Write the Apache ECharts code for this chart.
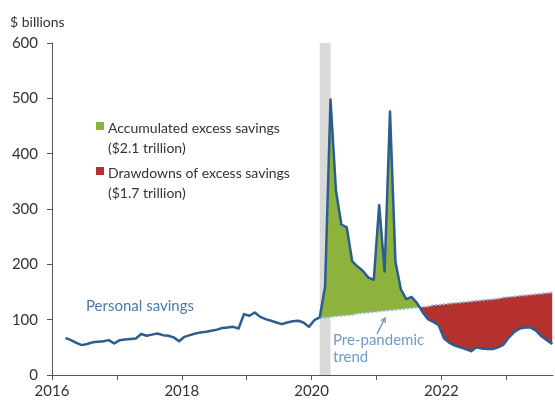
<!DOCTYPE html>
<html><head><meta charset="utf-8">
<script src="https://cdn.jsdelivr.net/npm/echarts@6.0.0/dist/echarts.min.js"></script>
<style>html,body{margin:0;padding:0;background:#fff}#c{width:555px;height:405px}</style>
</head><body><div id="c"></div>
<script>
// ---- data (monthly, $ billions) ----
const savingsFirstMonth = '2016-03';
const savings = [
  67, 63, 58, 54, 56, 59, 60, 61, 63, 57,
  63, 64, 65, 66, 74, 71, 73, 75, 72, 71, 68, 61,
  69, 72, 75, 77, 78, 80, 82, 85, 86, 87, 84, 110,
  107, 113, 105, 101, 98, 95, 92, 95, 97, 98, 95, 87,
  99, 104, 160, 498, 334, 272, 267, 206, 196, 188, 176, 172,
  307, 187, 476, 205, 155, 137, 141, 130, 114, 101, 96, 90,
  66, 58, 53, 50, 47, 43, 50, 48, 47, 47, 50, 55,
  68, 78, 84, 86, 86, 80, 70, 63, 56
];
const trendFirstMonth = '2020-02';
const trend = [
  103, 104, 105, 106, 107, 108, 109, 111, 112, 113, 114,
  115, 116, 117, 118, 119, 120, 121, 122, 123, 124, 126, 127,
  128, 129, 130, 131, 132, 133, 134, 135, 136, 137, 138, 140,
  141, 142, 143, 144, 145, 146, 147, 148, 149
];
const recession = ['2020-02', '2020-04'];
const yTicks = [0, 100, 200, 300, 400, 500, 600];
const yearTicks = [2016, 2017, 2018, 2019, 2020, 2021, 2022, 2023];
const yearLabels = [2016, 2018, 2020, 2022];
const legendItems = [
  {name: 'Accumulated excess savings', sub: '($2.1 trillion)', color: '#8db33d'},
  {name: 'Drawdowns of excess savings', sub: '($1.7 trillion)', color: '#b5312d'}
];

// ---- helpers ----
function ymToX(ym) { const p = ym.split('-').map(Number); return p[0] + (p[1] - 0.5) / 12; }
function ymAdd(ym, n) { const p = ym.split('-').map(Number); const t = p[0] * 12 + (p[1] - 1) + n; return Math.floor(t / 12) + '-' + String(t % 12 + 1).padStart(2, '0'); }
const savingsX = savings.map((v, i) => ymToX(ymAdd(savingsFirstMonth, i)));
const offset = savingsX.findIndex(x => Math.abs(x - ymToX(trendFirstMonth)) < 1e-6);
const trendX = trend.map((v, i) => savingsX[offset + i]);

const savingsData = savings.map((v, i) => [savingsX[i], v]);
const trendData = trend.map((v, i) => [trendX[i], v]);
// rows for the fill: x, savings, trend
const fillRows = trend.map((v, i) => [trendX[i], savings[offset + i], v]);

function renderFill(params, api) {
  if (params.dataIndex !== 0) return null;
  const S = fillRows.map(r => api.coord([r[0], r[1]]));
  const T = fillRows.map(r => api.coord([r[0], r[2]]));
  const d = fillRows.map(r => r[1] - r[2]);
  let j = d.findIndex((v, i) => i < d.length - 1 && v >= 0 && d[i + 1] < 0);
  if (j < 0) j = d.length - 1;
  const children = [];
  let C = null;
  if (j < d.length - 1) {
    const f = d[j] / (d[j] - d[j + 1]);
    C = [S[j][0] + f * (S[j + 1][0] - S[j][0]), S[j][1] + f * (S[j + 1][1] - S[j][1])];
  }
  const green = S.slice(0, j + 1).concat(C ? [C] : []).concat(T.slice(0, j + 1).reverse());
  children.push({type: 'polygon', shape: {points: green}, style: {fill: legendItems[0].color}});
  if (C) {
    const red = [C].concat(S.slice(j + 1)).concat(T.slice(j + 1).reverse());
    children.push({type: 'polygon', shape: {points: red}, style: {fill: legendItems[1].color}});
  }
  return {type: 'group', children: children};
}

const FONT = 'Lato, "Open Sans", sans-serif';
const chart = echarts.init(document.getElementById('c'), null, {renderer: 'canvas'});

const graphics = [
  {type: 'text', left: 10, top: 15, style: {text: '$ billions', fill: '#333', font: '14px ' + FONT}},
  {type: 'text', left: 86, top: 299, style: {text: 'Personal savings', fill: '#4c79a9', font: '15px ' + FONT}},
  {type: 'text', left: 333, top: 332, style: {text: 'Pre-pandemic\ntrend', fill: '#6d9ccb', font: '15px ' + FONT, lineHeight: 17}},
  {type: 'polyline', shape: {points: [[377, 334], [385, 318]]}, style: {stroke: '#6d9ccb', lineWidth: 1.5, fill: null}},
  {type: 'polyline', shape: {points: [[380.8, 320.8], [385, 318], [385.3, 323]]}, style: {stroke: '#6d9ccb', lineWidth: 1.5, fill: null}}
];
legendItems.forEach((it, j) => {
  const top = 120 + j * 45;
  graphics.push({type: 'rect', shape: {x: 96, y: top + 2, width: 8, height: 8}, style: {fill: it.color}});
  graphics.push({type: 'text', left: 108, top: top - 2, style: {text: it.name + '\n' + it.sub, fill: '#333', font: '14px ' + FONT, lineHeight: 20}});
});

chart.setOption({
  animation: false,
  backgroundColor: '#fff',
  grid: {left: 52, right: 2, top: 43, bottom: 30, containLabel: false, outerBoundsMode: 'none'},
  xAxis: {
    type: 'value', min: 2016, max: 2023.72, interval: 1,
    axisLine: {show: true, lineStyle: {color: '#555', width: 1}},
    axisTick: {show: true, length: 5, lineStyle: {color: '#555'}, customValues: yearTicks},
    axisLabel: {color: '#333', fontSize: 15, fontFamily: FONT, margin: 9, customValues: yearLabels, formatter: v => String(v)},
    splitLine: {show: false}
  },
  yAxis: {
    type: 'value', min: 0, max: 600, interval: 100,
    axisLine: {show: true, lineStyle: {color: '#555', width: 1}},
    axisTick: {show: true, length: 5, lineStyle: {color: '#555'}},
    axisLabel: {color: '#333', fontSize: 15, fontFamily: FONT, margin: 14, customValues: yTicks},
    splitLine: {show: false}
  },
  graphic: graphics,
  series: [
    {type: 'line', data: [], z: 0, silent: true,
     markArea: {silent: true, itemStyle: {color: '#d9d9d9'},
       data: [[{xAxis: ymToX(recession[0])}, {xAxis: ymToX(recession[1])}]]}},
    {type: 'custom', coordinateSystem: 'cartesian2d', data: fillRows, encode: {x: 0, y: [1, 2]},
     renderItem: renderFill, z: 1, silent: true, clip: true},
    {type: 'line', name: 'Pre-pandemic trend', data: trendData, symbol: 'none', z: 3,
     lineStyle: {color: '#93b8da', width: 2, type: [2, 2]}},
    {type: 'line', name: 'Personal savings', data: savingsData, symbol: 'none', z: 4,
     lineStyle: {color: '#2c5d8f', width: 2.5, join: 'round'}}
  ]
});
</script></body></html>
